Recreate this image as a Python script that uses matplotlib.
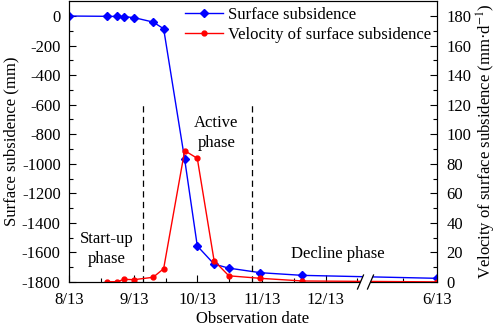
import numpy as np
import pandas as pd
import matplotlib
matplotlib.use("Agg")
import matplotlib.pyplot as plt
from matplotlib.patches import Polygon

plt.rcParams['font.family'] = ['Liberation Serif', 'DejaVu Serif']
plt.rcParams['mathtext.fontset'] = 'stix'
plt.rcParams['axes.unicode_minus'] = False
plt.rcParams['font.size'] = 12

# observation dates and readings
dates = ['2013-08-13', '2013-08-31', '2013-09-05', '2013-09-08', '2013-09-13',
         '2013-09-22', '2013-09-27', '2013-10-07', '2013-10-13', '2013-10-21',
         '2013-10-28', '2013-11-12', '2013-12-02', '2014-06-13']
subsidence = [0, -2, -3, -4, -11, -41, -86, -970, -1556, -1679, -1706, -1737, -1755, -1775]
velocity = [np.nan, 0.2, 0.2, 1.8, 1.6, 3.2, 9.0, 88.9, 83.7, 14.4, 4.2, 2.5, 0.7, 0.1]

tick_dates = ['2013-08-13', '2013-09-13', '2013-10-13', '2013-11-13', '2013-12-13', '2014-06-13']
tick_labels = ['8/13', '9/13', '10/13', '11/13', '12/13', '6/13']
minor_dates = ['2013-08-28', '2013-09-28', '2013-10-28', '2013-11-28', '2013-12-28', '2014-05-28']
phase_bounds = ['2013-09-17', '2013-11-08']

start = pd.Timestamp('2013-08-13')
gap_from = pd.Timestamp('2014-01-01')   # axis is broken here
gap_to = pd.Timestamp('2014-05-10')


def to_axis(ds):
    d = pd.to_datetime(pd.Series(ds))
    days = (d - start).dt.days.astype(float)
    skip = (gap_to - gap_from).days
    return np.where(d > gap_from, days - skip, days)


x = to_axis(dates)
brk = (gap_from - start).days
x_end = to_axis(['2014-06-13'])[0]

fig = plt.figure(figsize=(4.98, 3.28), dpi=100)
ax = fig.add_axes([0.1386, 0.1402, 0.7389, 0.856])
ax2 = ax.twinx()

l1, = ax.plot(x, subsidence, color='blue', marker='D', ms=4.2, lw=1.0, label='Surface subsidence')
l2, = ax2.plot(x, velocity, color='red', marker='o', ms=3.5, lw=1.0,
               label='Velocity of surface subsidence')

ax.set_xlim(0, x_end)
ax.set_ylim(-1800, 100)
ax2.set_ylim(0, 190)

ax.set_yticks(np.arange(-1800, 1, 200))
ax.set_yticks(np.arange(-1700, 100, 200), minor=True)
ax2.set_yticks(np.arange(0, 181, 20))
ax2.set_yticks(np.arange(10, 190, 20), minor=True)
ax.set_xticks(to_axis(tick_dates))
ax.set_xticklabels(tick_labels)
ax.set_xticks(to_axis(minor_dates), minor=True)

for a in (ax, ax2):
    a.tick_params(which='both', direction='in', top=False)
    a.tick_params(which='major', length=5, width=0.8)
    a.tick_params(which='minor', length=3, width=0.8)
ax.tick_params(right=False, which='both')
ax.tick_params(axis='x', pad=7)
ax.tick_params(axis='y', pad=6)
ax2.tick_params(axis='y', pad=7)

# phase boundaries
for xb in to_axis(phase_bounds):
    ax.plot([xb, xb], [-1800, -590], color='black', ls=(0, (5, 3.5)), lw=0.9)

ax.text(to_axis(['2013-08-31'])[0], -1577, 'Start-up\nphase', ha='center', va='center',
        linespacing=1.3)
ax.text(to_axis(['2013-10-22'])[0], -790, 'Active\nphase', ha='center', va='center',
        linespacing=1.3)
ax2.text(to_axis(['2013-12-19'])[0], 19, 'Decline phase', ha='center', va='center')

ax.set_xlabel('Observation date', labelpad=2)
ax.set_ylabel('Surface subsidence (mm)', labelpad=2)
ax2.set_ylabel('Velocity of surface subsidence (mm·d$^{-1}$)', labelpad=2)

ax2.legend(handles=[l1, l2], loc='upper right', frameon=False, handlelength=2.3,
           handletextpad=0.3, labelspacing=0.25, borderaxespad=0.15, borderpad=0.2)

# axis break marks
bx = brk / x_end
w_px = ax.get_window_extent().width
h_px = ax.get_window_extent().height
off = 5 / w_px
dx = 3 / w_px
dy = 7 / h_px
ext = 1.4
gap = Polygon([(bx - off - dx * ext, -dy * ext), (bx - off + dx * ext, dy * ext),
               (bx + off + dx * ext, dy * ext), (bx + off - dx * ext, -dy * ext)],
              closed=True, transform=ax2.transAxes, facecolor='white', edgecolor='none',
              clip_on=False, zorder=10)
ax2.add_patch(gap)
for c in (bx - off, bx + off):
    ax2.plot([c - dx, c + dx], [-dy, dy], color='black', lw=0.9,
             transform=ax2.transAxes, clip_on=False, zorder=11)

fig.savefig('out.png', dpi=100)
